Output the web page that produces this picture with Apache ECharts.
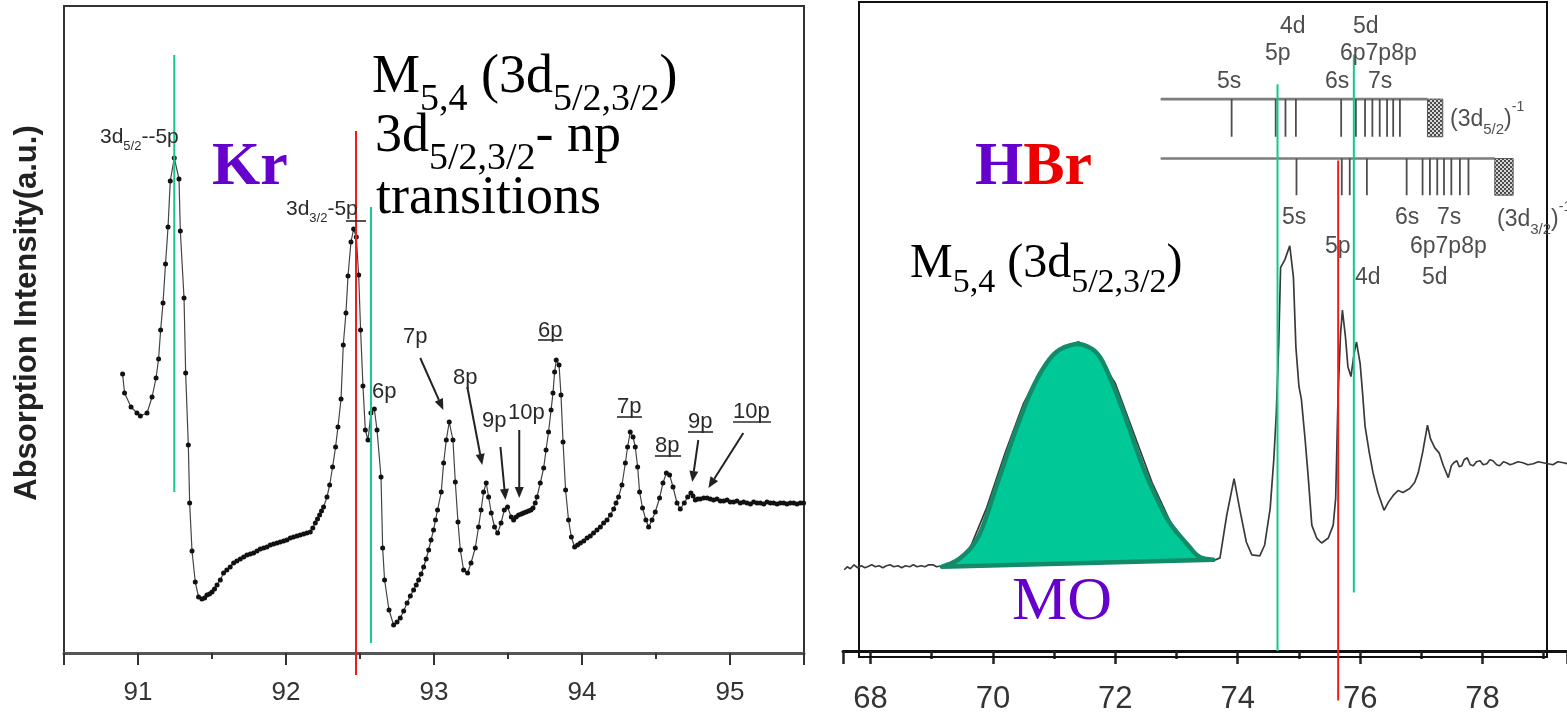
<!DOCTYPE html>
<html>
<head>
<meta charset="utf-8">
<script src="https://cdn.jsdelivr.net/npm/echarts@6/dist/echarts.min.js"></script>
<style>
html,body{margin:0;padding:0;background:#fff}
#chart{width:1567px;height:715px}
</style>
</head>
<body>
<div id="chart"></div>
<script>
// ---------- Kr M4,5 absorption spectrum (photon energy, eV / intensity, a.u.) ----------
const krEnergy = [
  90.896, 90.909, 90.953, 90.993, 91.016, 91.061, 91.095, 91.122, 91.139, 91.153,
  91.169, 91.186, 91.203, 91.218, 91.245, 91.277, 91.286, 91.311, 91.322, 91.340,
  91.349, 91.365, 91.387, 91.409, 91.432, 91.450, 91.466, 91.483, 91.500, 91.517,
  91.534, 91.556, 91.578, 91.600, 91.623, 91.646, 91.668, 91.691, 91.714, 91.736,
  91.759, 91.781, 91.804, 91.826, 91.849, 91.871, 91.894, 91.916, 91.939, 91.961,
  91.984, 92.006, 92.029, 92.051, 92.074, 92.096, 92.119, 92.141, 92.164, 92.181,
  92.198, 92.213, 92.227, 92.240, 92.254, 92.277, 92.295, 92.315, 92.335, 92.351,
  92.372, 92.387, 92.405, 92.419, 92.439, 92.457, 92.475, 92.491, 92.504, 92.520,
  92.536, 92.554, 92.574, 92.597, 92.615, 92.642, 92.653, 92.666, 92.696, 92.727,
  92.750, 92.772, 92.795, 92.818, 92.840, 92.862, 92.880, 92.896, 92.913, 92.930,
  92.947, 92.964, 92.980, 92.997, 93.010, 93.024, 93.049, 93.065, 93.083, 93.103,
  93.128, 93.144, 93.162, 93.178, 93.200, 93.227, 93.250, 93.279, 93.301, 93.318,
  93.335, 93.353, 93.369, 93.387, 93.409, 93.430, 93.453, 93.475, 93.497, 93.522,
  93.538, 93.555, 93.572, 93.590, 93.605, 93.622, 93.639, 93.655, 93.669, 93.684,
  93.696, 93.718, 93.741, 93.757, 93.774, 93.791, 93.804, 93.815, 93.826, 93.845,
  93.858, 93.872, 93.889, 93.909, 93.928, 93.950, 93.970, 93.989, 94.012, 94.034,
  94.056, 94.078, 94.101, 94.124, 94.146, 94.169, 94.192, 94.214, 94.230, 94.247,
  94.270, 94.293, 94.308, 94.326, 94.345, 94.360, 94.376, 94.389, 94.409, 94.432,
  94.450, 94.473, 94.495, 94.524, 94.547, 94.570, 94.592, 94.615, 94.642, 94.664,
  94.691, 94.714, 94.736, 94.750, 94.766, 94.782, 94.799, 94.822, 94.845, 94.867,
  94.889, 94.912, 94.935, 94.957, 94.980, 95.002, 95.024, 95.047, 95.070, 95.092,
  95.115, 95.138, 95.160, 95.183, 95.205, 95.228, 95.250, 95.273, 95.295, 95.318,
  95.340, 95.363, 95.385, 95.407, 95.430, 95.452, 95.475, 95.497
];
const krIntensity = [
  2.79, 2.60, 2.46, 2.40, 2.37, 2.40, 2.56, 2.75, 2.94, 3.23,
  3.50, 3.89, 4.26, 4.72, 4.95, 4.74, 4.22, 3.55, 2.80, 2.08,
  1.50, 1.02, 0.71, 0.56, 0.54, 0.55, 0.58, 0.59, 0.61, 0.64,
  0.68, 0.73, 0.80, 0.83, 0.86, 0.90, 0.92, 0.94, 0.96, 0.98,
  0.99, 1.00, 1.02, 1.04, 1.05, 1.06, 1.08, 1.09, 1.10, 1.11,
  1.12, 1.13, 1.15, 1.16, 1.17, 1.18, 1.19, 1.20, 1.21, 1.25,
  1.30, 1.34, 1.38, 1.42, 1.46, 1.56, 1.68, 1.86, 2.06, 2.26,
  2.54, 3.08, 3.40, 3.77, 4.11, 4.24, 4.16, 3.78, 3.23, 2.67,
  2.23, 2.13, 2.40, 2.44, 2.23, 1.76, 1.05, 0.73, 0.43, 0.28,
  0.31, 0.35, 0.42, 0.50, 0.57, 0.63, 0.68, 0.73, 0.79, 0.86,
  0.94, 1.03, 1.13, 1.23, 1.33, 1.43, 1.61, 1.90, 2.13, 2.31,
  2.13, 1.71, 1.31, 1.03, 0.83, 0.80, 0.90, 1.05, 1.26, 1.43,
  1.61, 1.70, 1.56, 1.40, 1.26, 1.20, 1.30, 1.43, 1.46, 1.36,
  1.33, 1.36, 1.38, 1.39, 1.40, 1.41, 1.42, 1.43, 1.45, 1.50,
  1.56, 1.70, 1.85, 2.03, 2.21, 2.43, 2.60, 2.81, 2.93, 2.88,
  2.58, 2.11, 1.63, 1.33, 1.16, 1.06, 1.08, 1.10, 1.12, 1.15,
  1.17, 1.20, 1.23, 1.26, 1.30, 1.33, 1.38, 1.44, 1.50, 1.56,
  1.68, 1.90, 2.06, 2.21, 2.16, 2.06, 1.86, 1.61, 1.45, 1.33,
  1.26, 1.33, 1.41, 1.55, 1.70, 1.80, 1.78, 1.66, 1.50, 1.44,
  1.50, 1.56, 1.60, 1.57, 1.53, 1.54, 1.54, 1.55, 1.55, 1.54,
  1.53, 1.54, 1.52, 1.52, 1.53, 1.51, 1.51, 1.52, 1.50, 1.51,
  1.50, 1.49, 1.51, 1.50, 1.50, 1.49, 1.51, 1.50, 1.50, 1.49,
  1.50, 1.50, 1.49, 1.50, 1.50, 1.49, 1.50, 1.50
];

// ---------- HBr spectrum ----------
const hbrEnergy = [
  67.57, 67.62, 67.67, 67.73, 67.79, 67.85, 67.91, 67.95, 68.02, 68.08,
  68.14, 68.20, 68.26, 68.32, 68.38, 68.45, 68.51, 68.57, 68.64, 68.70,
  68.76, 68.83, 68.89, 68.95, 69.02, 69.08, 69.17, 69.30, 69.60, 69.90,
  70.20, 70.50, 70.80, 71.10, 71.40, 71.70, 72.00, 72.30, 72.60, 72.90,
  73.20, 73.40, 73.60, 73.64, 73.71, 73.82, 73.94, 74.03, 74.14, 74.23,
  74.36, 74.44, 74.53, 74.59, 74.63, 74.67, 74.70, 74.77, 74.85, 74.91,
  74.95, 75.00, 75.04, 75.10, 75.15, 75.21, 75.29, 75.37, 75.48, 75.56,
  75.60, 75.64, 75.68, 75.71, 75.76, 75.80, 75.85, 75.90, 75.94, 76.00,
  76.04, 76.08, 76.15, 76.21, 76.29, 76.39, 76.46, 76.54, 76.62, 76.70,
  76.81, 76.89, 76.95, 77.02, 77.10, 77.15, 77.22, 77.29, 77.36, 77.44,
  77.49, 77.53, 77.58, 77.62, 77.66, 77.70, 77.75, 77.80, 77.85, 77.90,
  77.96, 78.01, 78.07, 78.12, 78.17, 78.23, 78.28, 78.34, 78.39, 78.45,
  78.50, 78.58, 78.66, 78.74, 78.83, 78.91, 78.99, 79.07, 79.15, 79.23,
  79.32, 79.38
];
const hbrIntensity = [
  0.82, 0.85, 0.83, 0.87, 0.84, 0.86, 0.84, 0.85, 0.87, 0.85,
  0.86, 0.84, 0.86, 0.87, 0.85, 0.86, 0.84, 0.86, 0.85, 0.87,
  0.85, 0.86, 0.85, 0.87, 0.87, 0.85, 0.86, 0.88, 1.00, 1.45,
  2.00, 2.50, 2.85, 3.05, 3.12, 3.00, 2.70, 2.20, 1.70, 1.30,
  1.05, 0.95, 0.92, 0.92, 0.94, 1.37, 1.74, 1.44, 1.10, 0.97,
  0.96, 1.07, 1.44, 1.94, 2.40, 3.10, 3.87, 3.95, 4.09, 3.77,
  3.07, 2.67, 2.54, 2.14, 1.77, 1.27, 1.14, 1.09, 1.14, 1.27,
  1.54, 2.60, 3.20, 3.44, 3.17, 2.87, 2.77, 3.00, 3.12, 2.90,
  2.60, 2.27, 2.00, 1.80, 1.60, 1.42, 1.50, 1.57, 1.62, 1.60,
  1.64, 1.70, 1.80, 2.00, 2.28, 2.14, 2.05, 2.00, 1.87, 1.75,
  1.87, 1.90, 1.92, 1.86, 1.87, 1.93, 1.95, 1.88, 1.87, 1.91,
  1.92, 1.88, 1.89, 1.93, 1.92, 1.88, 1.87, 1.91, 1.90, 1.88,
  1.89, 1.91, 1.90, 1.88, 1.89, 1.91, 1.90, 1.89, 1.88, 1.91,
  1.90, 1.89
];

// Molecular-orbital band (outline of the shaded MO region)
const moEnergy = [69.167, 69.469, 69.773, 70.077, 70.379, 70.683, 70.987, 71.289, 71.518,
                  71.745, 71.972, 72.199, 72.426, 72.654, 72.882, 73.185, 73.374, 73.601];
const moHeight = [0.85, 0.94, 1.17, 1.70, 2.24, 2.70, 2.99, 3.09, 3.08,
                  2.97, 2.67, 2.30, 1.90, 1.57, 1.30, 1.07, 0.95, 0.92];

// Marker lines: [energy, lower end, upper end]
const krGreenLines = [[91.245, 1.61, 5.98], [92.574, 0.10, 4.46]];
const krRedLines = [[92.473, -0.22, 5.22]];
const hbrGreenLines = [[74.650, 0.00, 5.72], [75.897, 0.59, 6.02]];
const hbrRedLines = [[75.641, -0.50, 4.95]];

// Rydberg level ladders for the (3d5/2)^-1 and (3d3/2)^-1 limits
const upperLevels = [73.90, 74.62, 74.78, 74.95, 75.69, 75.93, 76.08, 76.20, 76.32, 76.44, 76.54, 76.65];
const lowerLevels = [74.96, 75.70, 75.83, 76.11, 76.76, 77.02, 77.14, 77.26, 77.37, 77.49, 77.63, 77.77];
const upperBar = {from: 72.74, to: 77.10, y: 5.57, tickEnd: 5.19, limit: [77.10, 77.35]};
const lowerBar = {from: 72.74, to: 78.20, y: 4.97, tickEnd: 4.60, limit: [78.20, 78.50]};

// Annotation arrows on the Kr spectrum: [x1, y1, x2, y2]
const krArrows = [
  [92.907, 2.95, 93.063, 2.43],
  [93.225, 2.66, 93.326, 1.88],
  [93.449, 2.06, 93.483, 1.53],
  [93.576, 2.23, 93.576, 1.55],
  [94.786, 2.13, 94.745, 1.71],
  [95.090, 2.20, 94.854, 1.65]
];

const krTicks = [91, 92, 93, 94, 95];
const hbrTicks = [68, 70, 72, 74, 76, 78];

// ---------- helpers ----------
const serif = "'Liberation Serif','Times New Roman',serif";
const sans = "'Liberation Sans',Arial,Helvetica,sans-serif";
const narrow = "'Liberation Sans Narrow','Arial Narrow','Liberation Sans',sans-serif";
const GREEN = '#14c88e';
const RED = '#ee1c1c';

function zip(a, b) { return a.map((v, i) => [v, b[i]]); }

function segmentSeries(xi, yi, segs, color, width, z) {
  return {
    type: 'custom', xAxisIndex: xi, yAxisIndex: yi, z: z, silent: true, clip: false,
    data: segs, encode: {x: [0, 2], y: [1, 3]},
    renderItem: function (params, api) {
      const a = api.coord([api.value(0), api.value(1)]);
      const b = api.coord([api.value(2), api.value(3)]);
      return {type: 'line', shape: {x1: a[0], y1: a[1], x2: b[0], y2: b[1]},
              style: {stroke: color, lineWidth: width}};
    }
  };
}
function vLines(list) { return list.map(d => [d[0], d[1], d[0], d[2]]); }

function arrowSeries(xi, yi, segs) {
  return {
    type: 'custom', xAxisIndex: xi, yAxisIndex: yi, z: 20, silent: true, clip: false,
    data: segs, encode: {x: [0, 2], y: [1, 3]},
    renderItem: function (params, api) {
      const a = api.coord([api.value(0), api.value(1)]);
      const b = api.coord([api.value(2), api.value(3)]);
      const dx = b[0] - a[0], dy = b[1] - a[1];
      const len = Math.sqrt(dx * dx + dy * dy);
      const ux = dx / len, uy = dy / len;
      const hl = 11, hw = 4.5;
      const bx = b[0] - ux * hl, by = b[1] - uy * hl;
      return {type: 'group', children: [
        {type: 'line', shape: {x1: a[0], y1: a[1], x2: bx, y2: by}, style: {stroke: '#222', lineWidth: 2}},
        {type: 'polygon', shape: {points: [[b[0], b[1]], [bx - uy * hw, by + ux * hw], [bx + uy * hw, by - ux * hw]]},
         style: {fill: '#222'}}
      ]};
    }
  };
}

// checkered fill for the ionisation-limit boxes
const hatch = document.createElement('canvas');
hatch.width = 4; hatch.height = 4;
(function () {
  const g = hatch.getContext('2d');
  g.fillStyle = '#d8d8d8'; g.fillRect(0, 0, 4, 4);
  g.fillStyle = '#4a4a4a'; g.fillRect(0, 0, 2, 2); g.fillRect(2, 2, 2, 2);
})();

function limitBoxSeries(xi, yi, boxes) {
  return {
    type: 'custom', xAxisIndex: xi, yAxisIndex: yi, z: 6, silent: true, clip: false,
    data: boxes, encode: {x: [0, 2], y: [1, 3]},
    renderItem: function (params, api) {
      const a = api.coord([api.value(0), api.value(1)]);
      const b = api.coord([api.value(2), api.value(3)]);
      return {type: 'rect', shape: {x: a[0], y: a[1], width: b[0] - a[0], height: b[1] - a[1]},
              style: {fill: {image: hatch, repeat: 'repeat'}, stroke: '#555', lineWidth: 1}};
    }
  };
}

function catmull(pts, steps) {
  const out = [];
  for (let i = 0; i < pts.length - 1; i++) {
    const p0 = pts[Math.max(i - 1, 0)], p1 = pts[i], p2 = pts[i + 1], p3 = pts[Math.min(i + 2, pts.length - 1)];
    for (let s = 0; s < steps; s++) {
      const t = s / steps, t2 = t * t, t3 = t2 * t;
      const f = k => 0.5 * (2 * p1[k] + (-p0[k] + p2[k]) * t + (2 * p0[k] - 5 * p1[k] + 4 * p2[k] - p3[k]) * t2 +
                            (-p0[k] + 3 * p1[k] - 3 * p2[k] + p3[k]) * t3);
      out.push([f(0), f(1)]);
    }
  }
  out.push(pts[pts.length - 1]);
  return out;
}

// ---------- level ladder segments ----------
const levelSegs = [
  [upperBar.from, upperBar.y, upperBar.to, upperBar.y],
  [lowerBar.from, lowerBar.y, lowerBar.to, lowerBar.y]
];
const levelTicks = upperLevels.map(e => [e, upperBar.y, e, upperBar.tickEnd])
  .concat(lowerLevels.map(e => [e, lowerBar.y, e, lowerBar.tickEnd]));
const limitBoxes = [
  [upperBar.limit[0], upperBar.y, upperBar.limit[1], upperBar.tickEnd],
  [lowerBar.limit[0], lowerBar.y, lowerBar.limit[1], lowerBar.tickEnd]
];

// ---------- text annotations ----------
function label(x, y, text, size, color, extra) {
  return Object.assign({type: 'text', x: x, y: y, z: 60, silent: true,
    style: {text: text, fontSize: size, fontFamily: sans, fill: color, align: 'left', verticalAlign: 'middle'}}, extra || {});
}
function rich(x, y, text, richStyles) {
  return {type: 'text', x: x, y: y, z: 60, silent: true,
    style: {text: text, rich: richStyles, align: 'left', verticalAlign: 'top'}};
}
function underline(x1, x2, y, color) {
  return {type: 'line', z: 60, silent: true, shape: {x1: x1, y1: y, x2: x2, y2: y}, style: {stroke: color, lineWidth: 1.6}};
}

const bigRich = {
  m: {fontSize: 54, fontFamily: serif, fill: '#000', padding: [0, 0, 14, 0], verticalAlign: 'bottom'},
  s: {fontSize: 38, fontFamily: serif, fill: '#000', verticalAlign: 'bottom'}
};
const midRich = {
  m: {fontSize: 48, fontFamily: serif, fill: '#000', padding: [0, 0, 12, 0], verticalAlign: 'bottom'},
  s: {fontSize: 34, fontFamily: serif, fill: '#000', verticalAlign: 'bottom'}
};
const smallRich = {
  m: {fontSize: 21, fontFamily: sans, fill: '#2a2a2a', padding: [0, 0, 5, 0], verticalAlign: 'bottom'},
  s: {fontSize: 13, fontFamily: sans, fill: '#2a2a2a', verticalAlign: 'bottom'}
};
const limitRich = {
  m: {fontSize: 23, fontFamily: sans, fill: '#4e4e4e', padding: [8, 0, 6, 0], verticalAlign: 'bottom'},
  s: {fontSize: 15, fontFamily: sans, fill: '#4e4e4e', verticalAlign: 'bottom'},
  p: {fontSize: 14, fontFamily: sans, fill: '#4e4e4e', verticalAlign: 'top'}
};

const LC = '#2a2a2a';
const RC = '#4e4e4e';
const graphics = [
  // HBr panel frame
  {type: 'rect', z: 4, silent: true, shape: {x: 859, y: 2, width: 688, height: 655},
   style: {fill: 'none', stroke: '#111', lineWidth: 2}},
  // y axis title of the Kr panel
  {type: 'text', x: 27, y: 313, rotation: Math.PI / 2, z: 60, silent: true,
   style: {text: 'Absorption Intensity(a.u.)', fontSize: 31, fontWeight: 'bold', fontFamily: sans,
           fill: '#222', align: 'center', verticalAlign: 'middle'}},
  // Kr panel
  {type: 'text', x: 212, y: 168, z: 60, silent: true,
   style: {text: 'Kr', fontSize: 62, fontWeight: 'bold', fontFamily: serif, fill: '#6600cc', verticalAlign: 'middle'}},
  rich(372, 51, '{m|M}{s|5,4}{m| (3d}{s|5/2,3/2}{m|)}', bigRich),
  rich(375, 110, '{m|3d}{s|5/2,3/2}{m|- np}', bigRich),
  rich(376, 172, '{m|transitions}', bigRich),
  rich(100, 127, '{m|3d}{s|5/2}{m|--5p}', smallRich),
  rich(286, 199, '{m|3d}{s|3/2}{m|-5p}', smallRich),
  underline(346, 366, 221, LC),
  label(372, 392, '6p', 22, LC),
  label(403, 337, '7p', 22, LC),
  label(453, 378, '8p', 22, LC),
  label(482, 421, '9p', 22, LC),
  label(508, 413, '10p', 22, LC),
  label(538, 331, '6p', 22, LC), underline(538, 563, 340, LC),
  label(617, 407, '7p', 22, LC), underline(617, 642, 417, LC),
  label(655, 446, '8p', 22, LC), underline(655, 681, 456, LC),
  label(688, 422, '9p', 22, LC), underline(688, 713, 432, LC),
  label(733, 412, '10p', 22, LC), underline(733, 771, 422, LC),
  // HBr panel
  {type: 'text', x: 975, y: 168, z: 60, silent: true,
   style: {text: '{h|H}{b|Br}', verticalAlign: 'middle',
           rich: {h: {fontSize: 62, fontWeight: 'bold', fontFamily: serif, fill: '#6600cc'},
                  b: {fontSize: 62, fontWeight: 'bold', fontFamily: serif, fill: '#ee0000'}}}},
  rich(910, 240, '{m|M}{s|5,4}{m| (3d}{s|5/2,3/2}{m|)}', midRich),
  {type: 'text', x: 1012, y: 603, z: 60, silent: true,
   style: {text: 'MO', fontSize: 62, fontFamily: serif, fill: '#6600cc', verticalAlign: 'middle'}},
  label(1280, 27, '4d', 23, RC),
  label(1265, 54, '5p', 23, RC),
  label(1217, 82, '5s', 23, RC),
  label(1353, 27, '5d', 23, RC),
  label(1340, 54, '6p7p8p', 23, RC),
  label(1325, 82, '6s', 23, RC),
  label(1368, 82, '7s', 23, RC),
  rich(1450, 100, '{m|(3d}{s|5/2}{m|)}{p|-1}', limitRich),
  label(1282, 218, '5s', 23, RC),
  label(1395, 218, '6s', 23, RC),
  label(1437, 218, '7s', 23, RC),
  rich(1497, 200, '{m|(3d}{s|3/2}{m|)}{p|-1}', limitRich),
  label(1325, 247, '5p', 23, RC),
  label(1410, 247, '6p7p8p', 23, RC),
  label(1355, 278, '4d', 23, RC),
  label(1422, 278, '5d', 23, RC)
];

// ---------- chart ----------
const chart = echarts.init(document.getElementById('chart'), null, {renderer: 'canvas'});
chart.setOption({
  animation: false,
  backgroundColor: '#ffffff',
  grid: [
    {left: 64, right: 763, top: 6, bottom: 62, show: true, borderColor: '#333', borderWidth: 2, backgroundColor: 'transparent'},
    {left: 843, right: 0, top: 2, bottom: 58, show: false}
  ],
  xAxis: [
    {type: 'value', gridIndex: 0, min: 90.5, max: 95.5, splitNumber: 5,
     axisLine: {show: true, onZero: false, lineStyle: {color: '#555', width: 3}},
     axisTick: {show: true, length: 12, lineStyle: {color: '#333', width: 2}},
     minorTick: {show: true, splitNumber: 2, length: 6, lineStyle: {color: '#333', width: 2}},
     splitLine: {show: false},
     axisLabel: {show: true, margin: 27, fontSize: 26, fontFamily: narrow, color: '#333',
                 showMinLabel: false, showMaxLabel: false,
                 formatter: v => (krTicks.indexOf(Math.round(v * 1000) / 1000) >= 0 ? String(v) : '')}},
    {type: 'value', gridIndex: 1, min: 67.55, max: 79.38, splitNumber: 6,
     axisLine: {show: true, onZero: false, lineStyle: {color: '#111', width: 3}},
     axisTick: {show: true, length: 13, lineStyle: {color: '#222', width: 2.5}},
     minorTick: {show: true, splitNumber: 2, length: 8, lineStyle: {color: '#222', width: 2.5}},
     splitLine: {show: false},
     axisLabel: {show: true, margin: 33, fontSize: 31, fontFamily: narrow, color: '#333',
                 showMinLabel: false, showMaxLabel: false,
                 formatter: v => (hbrTicks.indexOf(Math.round(v * 1000) / 1000) >= 0 ? String(v) : '')}}
  ],
  yAxis: [
    {type: 'value', gridIndex: 0, min: 0, max: 6.47, show: false},
    {type: 'value', gridIndex: 1, min: 0, max: 6.55, show: false}
  ],
  series: [
    {type: 'line', name: 'Kr', xAxisIndex: 0, yAxisIndex: 0, z: 10,
     data: zip(krEnergy, krIntensity), symbol: 'circle', symbolSize: 5, showSymbol: true,
     itemStyle: {color: '#111'}, lineStyle: {color: '#444', width: 1.2}},
    {type: 'line', name: 'HBr', xAxisIndex: 1, yAxisIndex: 1, z: 10,
     data: zip(hbrEnergy, hbrIntensity), symbol: 'none',
     lineStyle: {color: '#3a3a3a', width: 1.7}},
    {type: 'custom', name: 'MO', xAxisIndex: 1, yAxisIndex: 1, z: 12, silent: true, clip: false,
     data: [[moEnergy[7], moHeight[7]]],
     renderItem: function (params, api) {
       const pts = moEnergy.map((e, i) => api.coord([e, moHeight[i]]));
       const top = catmull(pts, 8);
       return {type: 'polygon', shape: {points: top},
               style: {fill: '#00c896', stroke: '#138a68', lineWidth: 4.5, lineJoin: 'round'}};
     }},
    segmentSeries(1, 1, levelSegs, '#7d7d7d', 2.6, 5),
    segmentSeries(1, 1, levelTicks, '#4d4d4d', 1.8, 5),
    limitBoxSeries(1, 1, limitBoxes),
    arrowSeries(0, 0, krArrows),
    segmentSeries(0, 0, vLines(krGreenLines), GREEN, 2, 30),
    segmentSeries(0, 0, vLines(krRedLines), RED, 2, 30),
    segmentSeries(1, 1, vLines(hbrGreenLines), GREEN, 2, 30),
    segmentSeries(1, 1, vLines(hbrRedLines), RED, 2, 30)
  ],
  graphic: graphics
});
</script>
</body>
</html>
